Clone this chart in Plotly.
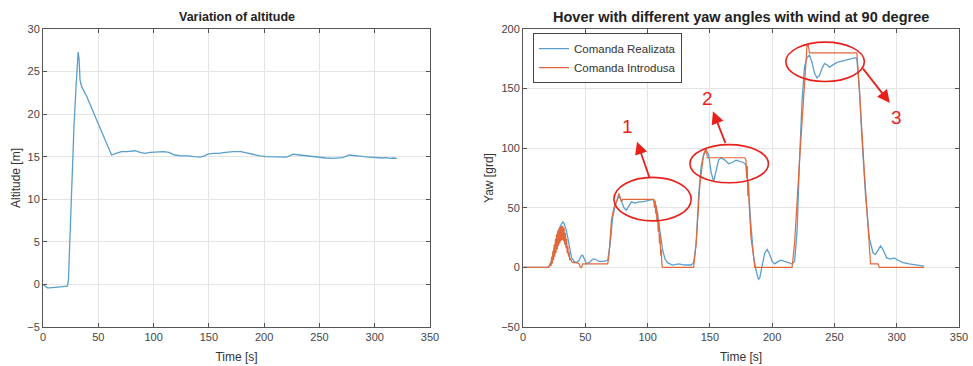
import plotly.graph_objects as go

# ---- Altitude log ----
alt_t = [0, 2, 4, 6, 10, 15, 20, 22, 23, 24.5, 26, 28, 30, 31, 31.8, 32.6, 33.5, 35, 37, 39.5,
         45, 50, 55, 59, 62, 66, 71, 76, 83, 88, 92, 97, 103.5, 109, 114, 119, 125, 131, 137,
         142, 146, 149, 154, 159, 165, 172, 179, 185, 191, 196, 202, 208, 214, 220, 223, 226,
         232, 238, 244, 250, 256, 262, 266, 271, 277, 282, 286, 290, 295, 300, 304, 307, 310,
         314, 317, 320]
alt_v = [0.0, -0.2, -0.4, -0.4, -0.35, -0.3, -0.25, -0.2, 0.5, 6.0, 12.0, 18.5, 23.5, 26.0,
         27.3, 26.5, 24.0, 23.2, 22.7, 22.1, 20.4, 18.9, 17.4, 16.1, 15.2, 15.4, 15.6, 15.6,
         15.7, 15.5, 15.4, 15.5, 15.6, 15.6, 15.5, 15.2, 15.1, 15.1, 15.0, 14.95, 15.1, 15.3,
         15.4, 15.4, 15.5, 15.6, 15.6, 15.4, 15.2, 15.1, 15.0, 15.0, 14.95, 14.95, 15.1, 15.3,
         15.2, 15.1, 15.0, 14.9, 14.85, 14.8, 14.85, 14.9, 15.2, 15.1, 15.1, 15.0, 14.95,
         14.9, 14.8, 14.85, 14.9, 14.8, 14.85, 14.8]

# ---- Yaw: achieved command ----
yaw_real_t = [0, 20, 22, 24, 26, 28, 30, 32, 33, 35, 37, 39, 41, 43, 45, 47, 48, 49, 51, 53,
              56, 58, 61, 65, 68, 70, 72, 74, 76, 77, 79, 81, 83, 85, 87, 90, 93, 96, 100,
              104, 106, 108, 110, 112, 114, 116, 120, 125, 130, 135, 137, 139, 141, 143, 145,
              147, 149, 151, 153, 155, 157, 159, 162, 165, 168, 171, 174, 177, 179, 181, 183,
              185, 187, 189, 190, 192, 194, 196, 198, 200, 202, 205, 207, 210, 213, 216, 218,
              220, 222, 224, 226, 228, 230, 232, 234, 236, 238, 240, 242, 244, 246, 249, 252,
              256, 260, 264, 267, 268, 270, 272, 275, 278, 281, 283, 285, 287, 289, 292, 295,
              298, 301, 305, 310, 315, 320, 322]
yaw_real_v = [0, 0, 2, 10, 20, 29, 35, 38, 37, 30, 18, 8, 5, 4, 6, 10, 10, 8, 3, 4,
              7, 7, 5, 5, 6, 20, 42, 52, 58, 60, 56, 50, 48, 52, 55, 54, 55, 55, 56,
              57, 55, 45, 30, 15, 7, 4, 2, 3, 2, 2, 4, 20, 60, 85, 94,
              98, 95, 80, 72, 82, 90, 92, 90, 87, 88, 90, 89, 88, 86, 65, 35,
              10, -2, -10, -9, 2, 12, 15, 11, 5, 3, 5, 6, 5, 4, 3, 5,
              30, 90, 140, 168, 176, 178, 172, 163, 159, 161, 167, 171, 170, 168, 170, 172,
              173, 174, 175, 176, 175, 150, 110, 60, 25, 12, 11, 15, 18, 15, 8, 7,
              8, 6, 4, 3, 2, 1, 1]

# ---- Yaw: input command ----
yaw_cmd_t = [0, 20.5, 21, 22, 22.5, 23, 23.5, 24, 24.5, 25, 25.5, 26, 26.5, 27, 27.5, 28,
             28.5, 29, 29.5, 30, 30.5, 31, 31.5, 32, 32.5, 33, 33.5, 34, 34.5, 35, 35.5, 36,
             36.5, 37, 37.5, 38, 39, 40, 43, 45, 46, 47, 48, 52, 60, 68, 69, 71, 73, 75, 77,
             78, 79, 80, 105, 105.5, 106, 106.5, 107, 107.5, 108, 108.5, 109, 109.5, 110,
             110.5, 111, 111.5, 112, 137, 139, 142, 145, 147, 148, 178, 179, 179.5, 180,
             180.5, 181, 181.5, 182, 183, 185, 186, 216, 218, 222, 226, 228, 229, 230, 268,
             270, 274, 277, 279, 285, 286, 322]
yaw_cmd_v = [0, 0, 1, 4, 1, 9, 3, 14, 6, 19, 9, 24, 12, 28, 15, 31,
             18, 33, 20, 34, 22, 35, 23, 35, 22, 33, 19, 29, 16, 24, 12, 18,
             9, 13, 6, 8, 5, 4, 4, 3, 0, 0, 3, 3, 3, 3, 10, 40, 50, 55, 62,
             58, 55, 57, 57, 50, 56, 45, 52, 38, 46, 30, 38, 20, 28,
             10, 15, 2, 0, 0, 20, 70, 95, 100, 92, 92, 90, 75, 85,
             60, 72, 55, 40, 25, 10, 0, 0, 20, 90, 160, 186, 186, 180, 180,
             150, 80, 30, 3, 3, 0, 0]

# Highlighted regions (ellipse bounds in data units) and their labels
zone_labels = ["1", "2", "3"]
zone_x = [(73, 135), (134, 197), (211, 274)]
zone_y = [(39, 75.5), (71, 103), (156, 189)]
arrow_tail = [(102, 74), (163, 103), (272, 168)]
arrow_head = [(91.5, 105.5), (152.5, 131), (294.5, 138)]
label_pos = [(84, 118), (148, 142), (300, 126)]

BLUE = "#5a9fcc"
ORANGE = "#e2673a"
RED = "#e8201c"
FONT = "Liberation Sans"
AXIS_COLOR = "#555555"
GRID_COLOR = "#e4e4e4"
TICK_FONT = dict(family=FONT, size=11, color="#444444")

fig = go.Figure()
fig.add_trace(go.Scatter(x=alt_t, y=alt_v, mode="lines", line=dict(color=BLUE, width=1.3),
                         showlegend=False, xaxis="x", yaxis="y"))
fig.add_trace(go.Scatter(x=yaw_real_t, y=yaw_real_v, mode="lines",
                         line=dict(color=BLUE, width=1.3), name="Comanda Realizata",
                         xaxis="x2", yaxis="y2"))
fig.add_trace(go.Scatter(x=yaw_cmd_t, y=yaw_cmd_v, mode="lines",
                         line=dict(color=ORANGE, width=1.2), name="Comanda Introdusa",
                         xaxis="x2", yaxis="y2"))


def axis(domain, rng, dtick, anchor, title, standoff):
    return dict(domain=domain, range=rng, dtick=dtick, anchor=anchor, showline=True,
                linecolor=AXIS_COLOR, linewidth=1, mirror="ticks", ticks="inside",
                ticklen=4, tickcolor=AXIS_COLOR, showgrid=True, gridcolor=GRID_COLOR,
                gridwidth=1, zeroline=False, tickfont=TICK_FONT, automargin=False,
                title=dict(text=title, font=dict(family=FONT, size=12, color="#333333"),
                           standoff=standoff))


W, H = 973, 366
fig.update_layout(
    width=W, height=H,
    margin=dict(l=0, r=0, t=29, b=39),
    paper_bgcolor="white", plot_bgcolor="white",
    xaxis=axis([43 / W, 430 / W], [0, 350], 50, "y", "Time [s]", 10),
    yaxis=axis([0, 1], [-5, 30], 5, "x", "Altitude [m]", 4),
    xaxis2=axis([523 / W, 959 / W], [0, 350], 50, "y2", "Time [s]", 10),
    yaxis2=axis([0, 1], [-50, 200], 50, "x2", "Yaw [grd]", 4),
    legend=dict(x=533 / W, y=0.986, xanchor="left", yanchor="top", bgcolor="white",
                bordercolor="#444444", borderwidth=1,
                font=dict(family=FONT, size=11.5, color="#333333"),
                tracegroupgap=0),
    showlegend=True,
)

# panel titles
titles = ["Variation of altitude", "Hover with different yaw angles with wind at 90 degree"]
title_x = [(43 + 430) / 2 / W, (523 + 959) / 2 / W]
title_size = [12.5, 14.5]
for txt, xc, fs in zip(titles, title_x, title_size):
    fig.add_annotation(text=f"<b>{txt}</b>", x=xc, y=1.04, xref="paper", yref="paper",
                       xanchor="center", yanchor="middle", showarrow=False,
                       font=dict(family=FONT, size=fs, color="#222222"))

# highlighted zones with arrows and numbers
for lab, (x0, x1), (y0, y1), (tx, ty), (hx, hy), (lx, ly) in zip(
        zone_labels, zone_x, zone_y, arrow_tail, arrow_head, label_pos):
    fig.add_shape(type="circle", xref="x2", yref="y2", x0=x0, x1=x1, y0=y0, y1=y1,
                  line=dict(color=RED, width=1.6))
    fig.add_annotation(x=hx, y=hy, ax=tx, ay=ty, xref="x2", yref="y2", axref="x2",
                       ayref="y2", text="", showarrow=True, arrowhead=2, arrowsize=1.4,
                       arrowwidth=1.8, arrowcolor=RED)
    fig.add_annotation(x=lx, y=ly, xref="x2", yref="y2", text=lab, showarrow=False,
                       font=dict(family=FONT, size=19, color=RED))

fig.write_html("out.html")
